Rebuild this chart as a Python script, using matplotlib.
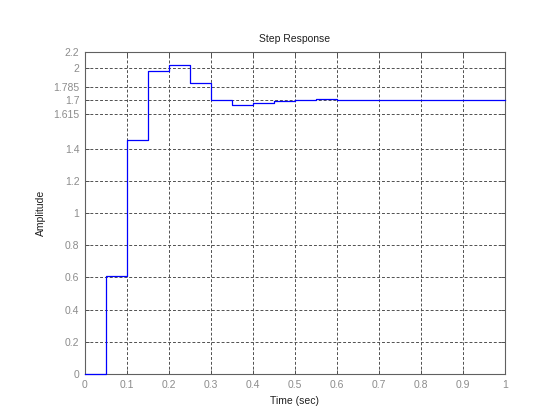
import matplotlib
matplotlib.use('Agg')
import numpy as np
import matplotlib.pyplot as plt

# Дискретна перехідна характеристика, Ts = 0.05 c
t = np.arange(0, 1.0001, 0.05)
amp = [0.0, 0.607, 1.456, 1.884, 1.921, 1.805, 1.701, 1.673, 1.681, 1.698,
       1.704, 1.710, 1.704, 1.704, 1.703, 1.703, 1.703, 1.703, 1.703, 1.703,
       1.703]

ytick_pos = [0, 0.2, 0.4, 0.6, 0.8, 1.0, 1.2, 1.4, 1.615, 1.7, 1.785, 1.9, 2.0]
ytick_lab = ['0', '0.2', '0.4', '0.6', '0.8', '1', '1.2', '1.4',
             '1.615', '1.7', '1.785', '2', '2.2']
xtick_pos = np.arange(0, 1.01, 0.1)
xtick_lab = ['0', '0.1', '0.2', '0.3', '0.4', '0.5', '0.6', '0.7', '0.8', '0.9', '1']

plt.rcParams['font.family'] = ['Liberation Sans', 'DejaVu Sans']

fig = plt.figure(figsize=(5.58, 4.20), dpi=100)
ax = fig.add_axes([85 / 558, 1 - 374 / 420, 420 / 558, 322 / 420])

ax.plot(t, amp, drawstyle='steps-post', color='#0000ff', linewidth=0.9,
        clip_on=False, zorder=4)

ax.set_xlim(0, 1)
ax.set_ylim(0, 2.0)
ax.set_xticks(xtick_pos)
ax.set_xticklabels(xtick_lab)
ax.set_yticks(ytick_pos)
ax.set_yticklabels(ytick_lab)

ax.grid(True, linestyle=(0, (3, 2)), color='#505050', linewidth=0.7)
ax.tick_params(direction='in', top=True, right=True, length=3, width=0.7,
               colors='#505050', labelcolor='#8c8c8c', labelsize=7.5, pad=4)
for s in ax.spines.values():
    s.set_color('#606060')
    s.set_linewidth(0.8)

ax.set_title('Step Response', fontsize=7.5, color='#202020', pad=7)
ax.set_xlabel('Time (sec)', fontsize=7.5, color='#202020', labelpad=5)
ax.set_ylabel('Amplitude', fontsize=7.5, color='#202020', labelpad=5)

fig.savefig('out.png', dpi=100)
